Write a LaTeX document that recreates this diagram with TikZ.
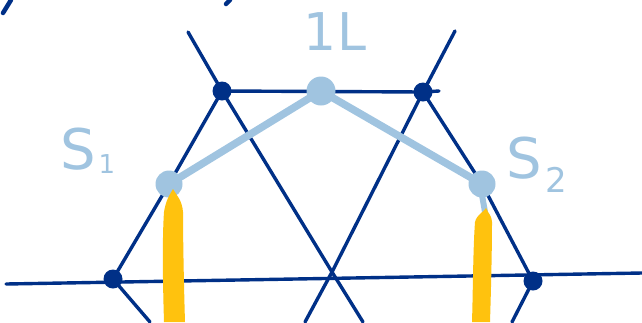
\documentclass[tikz,border=0pt]{standalone}
\usepackage{fontspec}
\setsansfont{DejaVu Sans}
\definecolor{dkblue}{RGB}{0,48,135}
\definecolor{ltblue}{RGB}{160,196,224}
\definecolor{gold}{RGB}{255,194,14}
\tikzset{
  lattice/.style={draw=dkblue,line width=3.4pt,line cap=round},
  vdot/.style={circle,fill=dkblue,inner sep=0pt,minimum size=19pt},
  snode/.style={circle,fill=ltblue,inner sep=0pt,minimum size=27pt},
  slink/.style={draw=ltblue,line width=7.5pt},
  lbl/.style={text=ltblue,font=\sffamily,inner sep=0pt},
  goldstroke/.style={fill=gold,draw=none}
}
\begin{document}
\begin{tikzpicture}[x=1pt,y=-1pt]
\useasboundingbox (0,0) rectangle (642,322);
% lattice points
\coordinate (TL) at (222,91);
\coordinate (TR) at (423,92);
\coordinate (BL) at (113,279);
\coordinate (BR) at (533,281);
\coordinate (X) at (332,272);
\coordinate (a0) at (188,32);
\coordinate (a1) at (363,322);
\coordinate (b0) at (455,31);
\coordinate (b1) at (305,322);
\coordinate (e1) at (150,322);
\coordinate (f1) at (512,322);
\coordinate (t1) at (439,91);
\coordinate (h0) at (6,284);
\coordinate (h1) at (642,273);
\coordinate (S1) at (169,184);
\coordinate (S2) at (482,184);
\coordinate (I) at (321,91);
% lattice lines
\draw[lattice] (a0) -- (TL) -- (X) -- (a1);
\draw[lattice] (b0) -- (TR) -- (X) -- (b1);
\draw[lattice] (TL) -- (S1) -- (BL) -- (e1);
\draw[lattice] (TR) -- (S2) -- (BR) -- (f1);
\draw[lattice] (TL) -- (TR) -- (t1);
\draw[lattice] (h0) -- (h1);
% top remnants of handwriting
\coordinate (r0) at (11,0);
\coordinate (r1) at (3,13);
\coordinate (r2) at (230,0);
\coordinate (r3) at (226,4);
\draw[draw=dkblue,line width=4.5pt,line cap=round] (r0) -- (r1);
\draw[draw=dkblue,line width=4.5pt,line cap=round] (r2) -- (r3);
% light blue links
\draw[slink] (S1) -- (I) -- (S2);
% vertices
\node[vdot] (vTL) at (TL) {};
\node[vdot] (vTR) at (TR) {};
\node[vdot] (vBL) at (BL) {};
\node[vdot] (vBR) at (BR) {};
% light blue nodes
\node[snode] (s1) at (S1) {};
\node[snode] (s2) at (S2) {};
\node[snode,minimum size=29pt] (one) at (I) {};
% neck from s2
\coordinate (n0) at (482,195);
\coordinate (n1) at (485,212);
\draw[draw=ltblue,line width=6pt] (n0) -- (n1);
% yellow strokes
\path[goldstroke] (173,189) .. controls (169,196) and (166,200) .. (164,212)
  .. controls (162,240) and (163,290) .. (164,322) -- (185,322)
  .. controls (184,290) and (183,240) .. (183,212)
  .. controls (182,200) and (177,196) .. (173,189) -- cycle;
\path[goldstroke] (486,208) .. controls (484,212) and (477,214) .. (475,222)
  .. controls (473,250) and (473,290) .. (472,322) -- (490,322)
  .. controls (491,290) and (492,250) .. (492,222)
  .. controls (492,216) and (488,213) .. (486,208) -- cycle;
% labels
\node[lbl,font=\sffamily\fontsize{56}{56}\selectfont] (lS1) at (78,149) {S};
\node[lbl,font=\sffamily\fontsize{26}{26}\selectfont] (lS1i) at (107,164) {1};
\node[lbl,font=\sffamily\fontsize{56}{56}\selectfont] (lS2) at (524,158) {S};
\node[lbl,font=\sffamily\fontsize{34}{34}\selectfont] (lS2i) at (556,180) {2};
\node[lbl,font=\sffamily\fontsize{52}{52}\selectfont] (lI) at (335,32) {1L};
\end{tikzpicture}
\end{document}
